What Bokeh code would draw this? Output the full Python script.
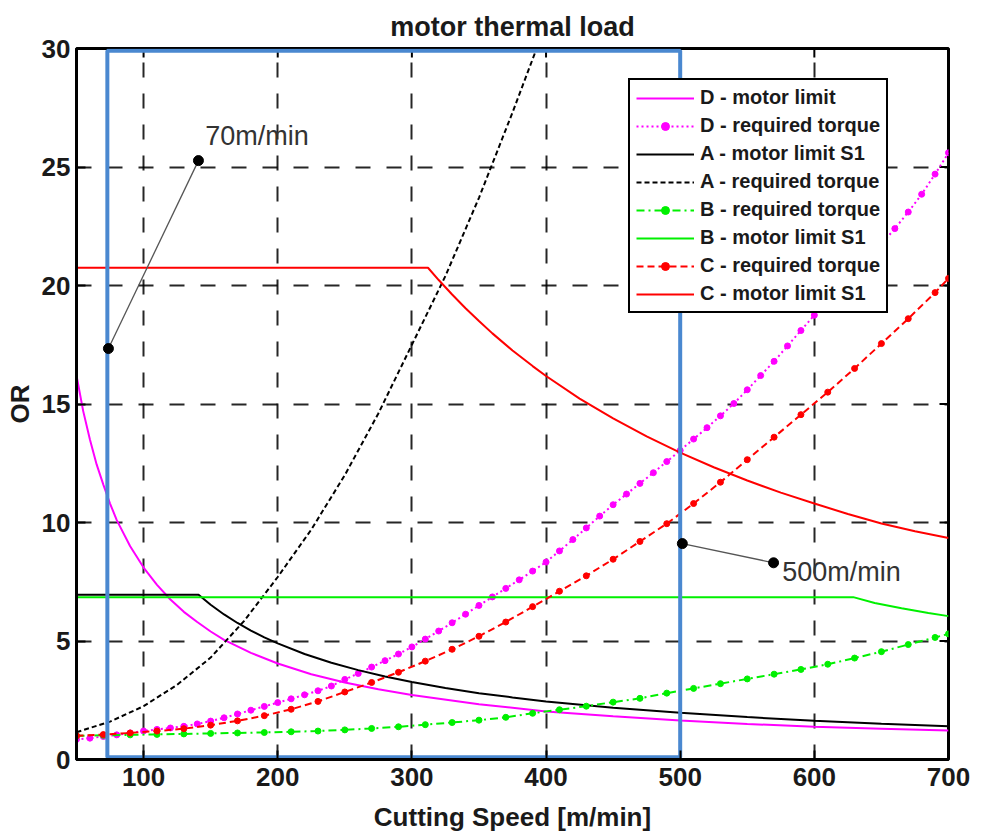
import math
from bokeh.plotting import figure
from bokeh.models import FixedTicker, Legend, LegendItem, Range1d, Label
from bokeh.embed import file_html
from bokeh.resources import INLINE

# ---------------- data ----------------
x_ticks = [100, 200, 300, 400, 500, 600, 700]
y_ticks = [0, 5, 10, 15, 20, 25, 30]
x_min, x_max = 50, 700
y_min, y_max = 0, 30

# D - motor limit
dl_x = [50, 55, 60, 65, 70, 75, 80, 90, 100, 110, 120, 130, 140, 150, 160, 180, 200, 225, 250, 275,
        300, 350, 400, 450, 500, 550, 600, 650, 700]
dl_y = [16.2, 14.7, 13.5, 12.45, 11.6, 10.8, 10.1, 9.0, 8.1, 7.37, 6.75, 6.23, 5.8, 5.4, 5.05, 4.5, 4.05, 3.6, 3.25, 2.96,
        2.72, 2.33, 2.03, 1.82, 1.65, 1.5, 1.38, 1.3, 1.22]

# D - required torque
dr_x = [50, 60, 70, 80, 90, 100, 110, 120, 130, 140, 150, 160, 170, 180, 190, 200, 210, 220, 230, 240,
        250, 260, 270, 280, 290, 300, 310, 320, 330, 340, 350, 360, 370, 380, 390, 400, 410, 420, 430, 440,
        450, 460, 470, 480, 490, 500, 510, 520, 530, 540, 550, 560, 570, 580, 590, 600, 610, 620, 630, 640,
        650, 660, 670, 680, 690, 700]
dr_y = [0.85, 0.9, 0.97, 1.04, 1.12, 1.2, 1.27, 1.33, 1.4, 1.5, 1.62, 1.76, 1.92, 2.08, 2.24, 2.4, 2.56, 2.73, 2.9, 3.1,
        3.38, 3.63, 3.9, 4.17, 4.45, 4.75, 5.08, 5.42, 5.77, 6.13, 6.5, 6.86, 7.22, 7.58, 7.95, 8.33, 8.8, 9.28, 9.77, 10.27,
        10.75, 11.2, 11.65, 12.1, 12.57, 13.04, 13.52, 14.0, 14.5, 15.02, 15.6, 16.2, 16.8, 17.45, 18.1, 18.75, 19.35, 19.95, 20.55, 21.15,
        21.75, 22.4, 23.1, 23.85, 24.7, 25.6]

# A - motor limit S1
al_x = [50, 141, 150, 160, 170, 180, 190, 200, 220, 240, 260, 280, 300, 325, 350, 375, 400, 450, 500, 550, 600, 650, 700]
al_y = [6.95, 6.95, 6.53, 6.12, 5.76, 5.44, 5.15, 4.9, 4.45, 4.08, 3.77, 3.5, 3.27, 3.02, 2.8, 2.62, 2.45, 2.18, 1.97, 1.79, 1.63, 1.51, 1.4]

# A - required torque
ar_x = [50, 75, 100, 125, 150, 175, 200, 225, 250, 275, 300, 325, 350, 375, 393]
ar_y = [1.15, 1.6, 2.25, 3.15, 4.3, 5.85, 7.7, 9.7, 12.0, 14.6, 17.5, 20.4, 23.7, 27.3, 30.0]

# B - required torque
br_x = [50, 70, 90, 110, 130, 150, 170, 190, 210, 230, 250, 270, 290, 310, 330, 350, 370, 390, 410, 430,
        450, 470, 490, 510, 530, 550, 570, 590, 610, 630, 650, 670, 690, 700]
br_y = [1.0, 1.02, 1.04, 1.06, 1.08, 1.1, 1.12, 1.14, 1.17, 1.2, 1.25, 1.31, 1.38, 1.47, 1.56, 1.66, 1.78, 1.95, 2.1, 2.25,
        2.42, 2.58, 2.8, 3.0, 3.2, 3.4, 3.6, 3.8, 4.02, 4.28, 4.55, 4.85, 5.15, 5.3]

# B - motor limit S1
bl_x = [50, 629, 645, 665, 685, 700]
bl_y = [6.85, 6.85, 6.6, 6.38, 6.18, 6.05]

# C - required torque
cr_x = [50, 70, 90, 110, 130, 150, 170, 190, 210, 230, 250, 270, 290, 310, 330, 350, 370, 390, 410, 430,
        450, 470, 490, 510, 530, 550, 570, 590, 610, 630, 650, 670, 690, 700]
cr_y = [1.0, 1.05, 1.12, 1.2, 1.3, 1.45, 1.63, 1.85, 2.12, 2.45, 2.85, 3.25, 3.68, 4.15, 4.65, 5.2, 5.8, 6.45, 7.1, 7.75,
        8.45, 9.2, 9.95, 10.8, 11.7, 12.65, 13.6, 14.55, 15.5, 16.5, 17.55, 18.6, 19.7, 20.3]

# C - motor limit S1
cl_x = [50, 312, 320, 330, 340, 350, 360, 375, 390, 400, 425, 450, 475, 500, 525, 550, 575, 600, 625, 650, 675, 700]
cl_y = [20.75, 20.75, 20.23, 19.62, 19.04, 18.5, 17.98, 17.26, 16.6, 16.18, 15.23, 14.39, 13.63, 12.95, 12.33, 11.77,
        11.26, 10.8, 10.36, 9.96, 9.63, 9.35]

# highlighted speed window (blue box)
box_x = [73, 500]
box_y = [0.1, 29.9]

# annotations
a70_x = [73.8, 140.9]
a70_y = [17.34, 25.27]
a70_text = "70m/min"
a70_pos = (146, 26.3)

a500_x = [501.6, 569.6]
a500_y = [9.11, 8.3]
a500_text = "500m/min"
a500_pos = (576, 7.9)

# ---------------- figure ----------------
FONT = "Liberation Sans"
MAG = "#ff00ff"
RED = "#ff0000"
GRN = "#00f000"
BLUE = "#4a88d0"
TXT = "#1a1a1a"

p = figure(width=982, height=835, output_backend="svg", toolbar_location=None,
           x_range=Range1d(x_min, x_max), y_range=Range1d(y_min, y_max),
           min_border_left=76, min_border_right=34, min_border_top=48, min_border_bottom=76,
           title="motor thermal load")
p.background_fill_color = "white"
p.border_fill_color = "white"
p.outline_line_color = "black"
p.outline_line_width = 3
p.outline_line_alpha = 1

p.title.text_font = FONT
p.title.text_font_size = "27px"
p.title.text_font_style = "bold"
p.title.align = "center"
p.title.text_color = TXT
p.title.standoff = 14

def style_axis(ax):
    ax.axis_line_width = 3
    ax.axis_line_color = "black"
    ax.major_tick_in = 9
    ax.major_tick_out = 0
    ax.major_tick_line_width = 2
    ax.minor_tick_in = 0
    ax.minor_tick_out = 0
    ax.major_label_text_font = FONT
    ax.major_label_text_font_style = "bold"
    ax.major_label_text_font_size = "26px"
    ax.major_label_text_color = TXT
    ax.axis_label_text_font = FONT
    ax.axis_label_text_font_style = "bold"
    ax.axis_label_text_font_size = "26px"
    ax.axis_label_text_color = TXT

xa = p.xaxis[0]
ya = p.yaxis[0]
xa.ticker = FixedTicker(ticks=x_ticks)
ya.ticker = FixedTicker(ticks=y_ticks)
style_axis(xa)
style_axis(ya)
xa.axis_label = "Cutting Speed [m/min]"
ya.axis_label = "OR"
xa.major_label_standoff = 8
xa.axis_label_standoff = 13
ya.major_label_standoff = 6
ya.axis_label_standoff = 4

for g in (p.xgrid[0], p.ygrid[0]):
    g.grid_line_color = "black"
    g.grid_line_width = 2
    g.grid_line_dash = "15 16"
    g.grid_line_alpha = 0.85
p.xgrid[0].ticker = FixedTicker(ticks=x_ticks)
p.ygrid[0].ticker = FixedTicker(ticks=y_ticks)

# inward ticks on the top and right edges of the frame (half of each dash is clipped)
p.scatter(x_ticks, [y_max] * len(x_ticks), marker="dash", angle=math.pi / 2, size=18,
          line_color="black", line_width=2)
p.scatter([x_max] * len(y_ticks), y_ticks, marker="dash", size=18,
          line_color="black", line_width=2)

# ---------------- curves ----------------
r_dl = p.line(dl_x, dl_y, line_color=MAG, line_width=2)
r_dr_l = p.line(dr_x, dr_y, line_color=MAG, line_width=2, line_dash="2 3")
r_dr_m = p.scatter(dr_x, dr_y, marker="circle", size=6, fill_color=MAG, line_color=MAG)
r_al = p.line(al_x, al_y, line_color="black", line_width=2)
r_ar = p.line(ar_x, ar_y, line_color="black", line_width=2, line_dash="5 3")
r_br_l = p.line(br_x, br_y, line_color=GRN, line_width=2, line_dash="8 4 2 4")
r_br_m = p.scatter(br_x, br_y, marker="circle", size=6, fill_color=GRN, line_color=GRN)
r_bl = p.line(bl_x, bl_y, line_color=GRN, line_width=2)
r_cr_l = p.line(cr_x, cr_y, line_color=RED, line_width=2, line_dash="7 4")
r_cr_m = p.scatter(cr_x, cr_y, marker="circle", size=6, fill_color=RED, line_color=RED)
r_cl = p.line(cl_x, cl_y, line_color=RED, line_width=2)

# blue box
p.quad(left=[box_x[0]], right=[box_x[1]], bottom=[box_y[0]], top=[box_y[1]],
       fill_alpha=0, line_color=BLUE, line_width=4)

# annotations
p.line(a70_x, a70_y, line_color="#555555", line_width=1.3)
p.scatter(a70_x, a70_y, marker="circle", size=10, fill_color="black", line_color="black")
p.line(a500_x, a500_y, line_color="#555555", line_width=1.3)
p.scatter(a500_x, a500_y, marker="circle", size=10, fill_color="black", line_color="black")
p.add_layout(Label(x=a70_pos[0], y=a70_pos[1], text=a70_text, text_font=FONT,
                   text_font_size="27px", text_baseline="middle", text_color="#333333"))
p.add_layout(Label(x=a500_pos[0], y=a500_pos[1], text=a500_text, text_font=FONT,
                   text_font_size="27px", text_baseline="middle", text_color="#333333"))

# ---------------- legend ----------------
items = [
    LegendItem(label="D - motor limit", renderers=[r_dl]),
    LegendItem(label="D - required torque", renderers=[r_dr_l, r_dr_m]),
    LegendItem(label="A - motor limit S1", renderers=[r_al]),
    LegendItem(label="A - required torque", renderers=[r_ar]),
    LegendItem(label="B - required torque", renderers=[r_br_l, r_br_m]),
    LegendItem(label="B - motor limit S1", renderers=[r_bl]),
    LegendItem(label="C - required torque", renderers=[r_cr_l, r_cr_m]),
    LegendItem(label="C - motor limit S1", renderers=[r_cl]),
]
leg = Legend(items=items, location=(552, 446))
leg.label_text_font = FONT
leg.label_text_font_style = "bold"
leg.label_text_font_size = "20px"
leg.label_text_color = TXT
leg.glyph_width = 58
leg.glyph_height = 20
leg.label_height = 20
leg.spacing = 5
leg.padding = 6
leg.margin = 0
leg.label_standoff = 6
leg.border_line_color = "black"
leg.border_line_width = 2
leg.border_line_alpha = 1
leg.background_fill_color = "white"
leg.background_fill_alpha = 1
p.add_layout(leg)

open("out.html", "w").write(file_html(p, INLINE))
